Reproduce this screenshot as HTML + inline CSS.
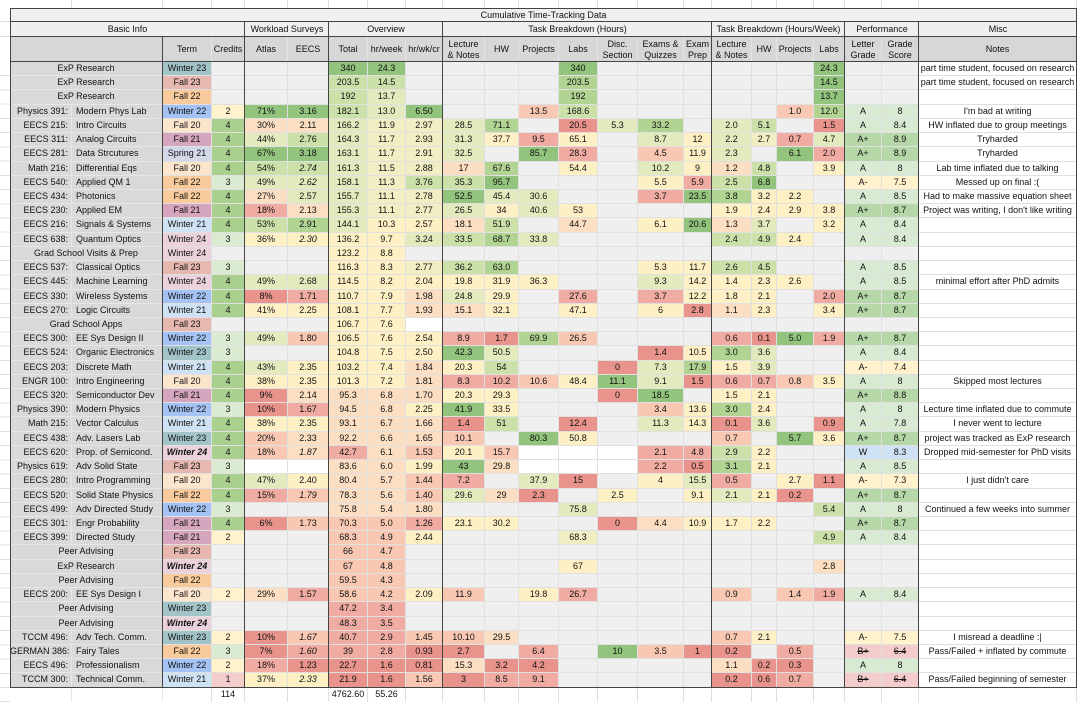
<!DOCTYPE html>
<html><head><meta charset="utf-8"><title>Cumulative Time-Tracking Data</title>
<style>
*{margin:0;padding:0}
body{width:1080px;height:702px;overflow:hidden;background:#fff;font-family:"Liberation Sans",Arial,sans-serif;font-size:9px;color:#111;position:relative}
.abs{position:absolute}
.tb{position:absolute;left:10px;top:62px;width:1067px}
.r{height:14.227px;display:flex}
.r>div{flex:none;box-sizing:border-box;border-right:1px solid #e0e0e0;border-bottom:1px solid #e0e0e0;background:#efefef;text-align:center;line-height:13.2px;white-space:nowrap;overflow:hidden}
.r>div:nth-last-child(1){width:158px;background:#fff}
.r>div:nth-last-child(2){width:37px}
.r>div:nth-last-child(3){width:37px}
.r>div:nth-last-child(4){width:31px}
.r>div:nth-last-child(5){width:37px}
.r>div:nth-last-child(6){width:25px}
.r>div:nth-last-child(7){width:40px}
.r>div:nth-last-child(8){width:28px}
.r>div:nth-last-child(9){width:46px}
.r>div:nth-last-child(10){width:40px}
.r>div:nth-last-child(11){width:39px}
.r>div:nth-last-child(12){width:40px}
.r>div:nth-last-child(13){width:34px}
.r>div:nth-last-child(14){width:42px}
.r>div:nth-last-child(15){width:37px}
.r>div:nth-last-child(16){width:38px}
.r>div:nth-last-child(17){width:39px}
.r>div:nth-last-child(18){width:41px}
.r>div:nth-last-child(19){width:43px}
.r>div:nth-last-child(20){width:33px}
.r>div:nth-last-child(21){width:49px}
.r>div:nth-last-child(22){width:91px;text-align:left;padding-left:4px;background:#d9d9d9;border-right-color:#e6e6e6;border-bottom-color:#e6e6e6}
.r>div:nth-last-child(23){width:62px;text-align:right;padding-right:3px;background:#d9d9d9;border-right-color:#e6e6e6;border-bottom-color:#e6e6e6}
.r>div.m{width:153px;text-align:center;padding:0}
.r>div.wh{background:#fff}
.r>div.g4{background:#93c47d}
.r>div.g3{background:#b1d493}
.r>div.g2{background:#cce1a9}
.r>div.g1{background:#e3eabd}
.r>div.yg{background:#f2eec3}
.r>div.y{background:#fef0c5}
.r>div.p{background:#fcdfc3}
.r>div.r1{background:#f8c8b3}
.r>div.r2{background:#f0aca2}
.r>div.r3{background:#e9938d}
.r>div.w23{background:#a2c4c9}
.r>div.f23{background:#e6b8af}
.r>div.f22{background:#f9cb9c}
.r>div.w22{background:#a4c2f4}
.r>div.f20{background:#fce5cd}
.r>div.f21{background:#d5a6bd}
.r>div.s21{background:#d4d9ea}
.r>div.w21{background:#cfe2f3}
.r>div.w24{background:#ead1dc}
.r>div.c4{background:#aad08f}
.r>div.c3{background:#dbebd2}
.r>div.c2{background:#fff2cc}
.r>div.c1{background:#f4cccc}
.r>div.ap{background:#b6d7a8}
.r>div.a{background:#d9ead3}
.r>div.am{background:#fff2cc}
.r>div.wd{background:#cfe2f3}
.r>div.bp{background:#f4cccc;text-decoration:line-through}
.it{font-style:italic}
.bi{font-style:italic;font-weight:bold}
.r.tot>div{background:#fff;border-bottom:none}
.hd{position:absolute;left:10px;display:flex}
.hd>div{flex:none;box-sizing:border-box;text-align:center;display:flex;align-items:center;justify-content:center;line-height:11px}
.sec>div{background:#efefef;height:15px}
.col>div{background:#d7d7d7;height:25px;border-right:1px solid #e4e4e4}
.top>div{height:8px;border-right:1px solid #e0e0e0;background:#fff}
.dk{position:absolute;background:#444}
</style></head><body>

<div class="hd top" style="top:0">
<div style="width:62px"></div><div style="width:91px"></div><div style="width:49px"></div><div style="width:33px"></div><div style="width:43px"></div><div style="width:41px"></div><div style="width:39px"></div><div style="width:38px"></div><div style="width:37px"></div><div style="width:42px"></div><div style="width:34px"></div><div style="width:40px"></div><div style="width:39px"></div><div style="width:40px"></div><div style="width:46px"></div><div style="width:28px"></div><div style="width:40px"></div><div style="width:25px"></div><div style="width:37px"></div><div style="width:31px"></div><div style="width:37px"></div><div style="width:37px"></div><div style="width:158px"></div>
</div>

<div class="abs" style="left:0;top:62px;width:10px;height:640px;background:repeating-linear-gradient(to bottom,#fff 0,#fff 13.227px,#e0e0e0 13.227px,#e0e0e0 14.227px)"></div>
<div class="abs" style="left:0;top:21px;width:10px;height:1px;background:#e0e0e0"></div>
<div class="abs" style="left:0;top:36px;width:10px;height:1px;background:#e0e0e0"></div>

<div class="abs" style="left:10px;top:8px;width:1067px;height:14px;background:#efefef;text-align:center;line-height:14px">Cumulative Time-Tracking Data</div>

<div class="hd sec" style="top:22px">
<div style="width:235px">Basic Info</div><div style="width:84px">Workload Surveys</div><div style="width:114px">Overview</div><div style="width:269px">Task Breakdown (Hours)</div><div style="width:133px">Task Breakdown (Hours/Week)</div><div style="width:74px">Performance</div><div style="width:158px">Misc</div>
</div>

<div class="hd col" style="top:37px">
<div style="width:153px"></div><div style="width:49px">Term</div><div style="width:33px">Credits</div><div style="width:43px">Atlas</div><div style="width:41px">EECS</div><div style="width:39px">Total</div><div style="width:38px">hr/week</div><div style="width:37px">hr/wk/cr</div><div style="width:42px">Lecture<br>&amp; Notes</div><div style="width:34px">HW</div><div style="width:40px">Projects</div><div style="width:39px">Labs</div><div style="width:40px">Disc.<br>Section</div><div style="width:46px">Exams &amp;<br>Quizzes</div><div style="width:28px">Exam<br>Prep</div><div style="width:40px">Lecture<br>&amp; Notes</div><div style="width:25px">HW</div><div style="width:37px">Projects</div><div style="width:31px">Labs</div><div style="width:37px">Letter<br>Grade</div><div style="width:37px">Grade<br>Score</div><div style="width:158px">Notes</div>
</div>

<div class="tb">
<div class="r"><div class="m">ExP Research</div><div class="w23">Winter 23</div><div></div><div></div><div></div><div class="g4">340</div><div class="g4">24.3</div><div></div><div></div><div></div><div></div><div class="g4">340</div><div></div><div></div><div></div><div></div><div></div><div></div><div class="g4">24.3</div><div></div><div></div><div>part time student, focused on research</div></div>
<div class="r"><div class="m">ExP Research</div><div class="f23">Fall 23</div><div></div><div></div><div></div><div class="g2">203.5</div><div class="g2">14.5</div><div></div><div></div><div></div><div></div><div class="g3">203.5</div><div></div><div></div><div></div><div></div><div></div><div></div><div class="g4">14.5</div><div></div><div></div><div>part time student, focused on research</div></div>
<div class="r"><div class="m">ExP Research</div><div class="f22">Fall 22</div><div></div><div></div><div></div><div class="g2">192</div><div class="g1">13.7</div><div></div><div></div><div></div><div></div><div class="g3">192</div><div></div><div></div><div></div><div></div><div></div><div></div><div class="g4">13.7</div><div></div><div></div><div></div></div>
<div class="r"><div>Physics 391:</div><div>Modern Phys Lab</div><div class="w22">Winter 22</div><div class="c2">2</div><div class="g4">71%</div><div class="g4">3.16</div><div class="g2">182.1</div><div class="g1">13.0</div><div class="g4">6.50</div><div></div><div></div><div class="r1">13.5</div><div class="g2">168.6</div><div></div><div></div><div></div><div></div><div></div><div class="r1">1.0</div><div class="g3">12.0</div><div class="a">A</div><div class="a">8</div><div>I'm bad at writing</div></div>
<div class="r"><div>EECS 215:</div><div>Intro Circuits</div><div class="f20">Fall 20</div><div class="c4">4</div><div class="p">30%</div><div class="p">2.11</div><div class="g1">166.2</div><div class="yg">11.9</div><div class="yg">2.97</div><div class="g1">28.5</div><div class="g3">71.1</div><div></div><div class="r3">20.5</div><div class="g1">5.3</div><div class="g3">33.2</div><div></div><div class="g1">2.0</div><div class="g2">5.1</div><div></div><div class="r3">1.5</div><div class="a">A</div><div class="a">8.4</div><div>HW inflated due to group meetings</div></div>
<div class="r"><div>EECS 311:</div><div>Analog Circuits</div><div class="f21">Fall 21</div><div class="c4">4</div><div class="g1">44%</div><div class="g2">2.76</div><div class="g1">164.3</div><div class="yg">11.7</div><div class="yg">2.93</div><div class="g1">31.3</div><div class="y">37.7</div><div class="r2">9.5</div><div class="y">65.1</div><div></div><div class="g1">8.7</div><div class="y">12</div><div class="g1">2.2</div><div class="yg">2.7</div><div class="r2">0.7</div><div class="g1">4.7</div><div class="ap">A+</div><div class="ap">8.9</div><div>Tryharded</div></div>
<div class="r"><div>EECS 281:</div><div>Data Strcutures</div><div class="s21">Spring 21</div><div class="c4">4</div><div class="g4">67%</div><div class="g4">3.18</div><div class="g1">163.1</div><div class="yg">11.7</div><div class="yg">2.91</div><div class="g1">32.5</div><div></div><div class="g4">85.7</div><div class="r2">28.3</div><div></div><div class="r1">4.5</div><div class="y">11.9</div><div class="g1">2.3</div><div></div><div class="g4">6.1</div><div class="r2">2.0</div><div class="ap">A+</div><div class="ap">8.9</div><div>Tryharded</div></div>
<div class="r"><div>Math 216:</div><div>Differential Eqs</div><div class="f20">Fall 20</div><div class="c4">4</div><div class="g2">54%</div><div class="g2 it">2.74</div><div class="g1">161.3</div><div class="yg">11.5</div><div class="yg">2.88</div><div class="p">17</div><div class="g3">67.6</div><div></div><div class="y">54.4</div><div></div><div class="g1">10.2</div><div class="y">9</div><div class="p">1.2</div><div class="g2">4.8</div><div></div><div class="y">3.9</div><div class="a">A</div><div class="a">8</div><div>Lab time inflated due to talking</div></div>
<div class="r"><div>EECS 540:</div><div>Applied QM 1</div><div class="f22">Fall 22</div><div class="c3">3</div><div class="g1">49%</div><div class="g1 it">2.62</div><div class="g1">158.1</div><div class="yg">11.3</div><div class="g2">3.76</div><div class="g2">35.3</div><div class="g4">95.7</div><div></div><div></div><div></div><div class="y">5.5</div><div class="r2">5.9</div><div class="g2">2.5</div><div class="g4">6.8</div><div></div><div></div><div class="am">A-</div><div class="am">7.5</div><div>Messed up on final :(</div></div>
<div class="r"><div>EECS 434:</div><div>Photonics</div><div class="f22">Fall 22</div><div class="c4">4</div><div class="p">27%</div><div class="g1">2.57</div><div class="g1">155.7</div><div class="yg">11.1</div><div class="yg">2.78</div><div class="g4">52.5</div><div class="g1">45.4</div><div class="g1">30.6</div><div></div><div></div><div class="r2">3.7</div><div class="g4">23.5</div><div class="g3">3.8</div><div class="y">3.2</div><div class="y">2.2</div><div></div><div class="a">A</div><div class="a">8.5</div><div>Had to make massive equation sheet</div></div>
<div class="r"><div>EECS 230:</div><div>Applied EM</div><div class="f21">Fall 21</div><div class="c4">4</div><div class="r2">18%</div><div class="p">2.13</div><div class="g1">155.3</div><div class="yg">11.1</div><div class="yg">2.77</div><div class="g1">26.5</div><div class="y">34</div><div class="g1">40.6</div><div class="y">53</div><div></div><div></div><div></div><div class="y">1.9</div><div class="y">2.4</div><div class="y">2.9</div><div class="y">3.8</div><div class="ap">A+</div><div class="ap">8.7</div><div>Project was writing, I don't like writing</div></div>
<div class="r"><div>EECS 216:</div><div>Signals &amp; Systems</div><div class="w21">Winter 21</div><div class="c4">4</div><div class="g2">53%</div><div class="g3">2.91</div><div class="g1">144.1</div><div class="y">10.3</div><div class="y">2.57</div><div class="p">18.1</div><div class="g2">51.9</div><div></div><div class="p">44.7</div><div></div><div class="y">6.1</div><div class="g4">20.6</div><div class="p">1.3</div><div class="g1">3.7</div><div></div><div class="y">3.2</div><div class="a">A</div><div class="a">8.4</div><div></div></div>
<div class="r"><div>EECS 638:</div><div>Quantum Optics</div><div class="w24">Winter 24</div><div class="c3">3</div><div class="y">36%</div><div class="y it">2.30</div><div class="y">136.2</div><div class="y">9.7</div><div class="g1">3.24</div><div class="g2">33.5</div><div class="g3">68.7</div><div class="g1">33.8</div><div></div><div></div><div></div><div></div><div class="g2">2.4</div><div class="g2">4.9</div><div class="y">2.4</div><div></div><div class="a">A</div><div class="a">8.4</div><div></div></div>
<div class="r"><div class="m">Grad School Visits &amp; Prep</div><div class="w24">Winter 24</div><div></div><div></div><div></div><div class="y">123.2</div><div class="y">8.8</div><div></div><div></div><div></div><div></div><div></div><div></div><div></div><div></div><div></div><div></div><div></div><div></div><div></div><div></div><div></div></div>
<div class="r"><div>EECS 537:</div><div>Classical Optics</div><div class="f23">Fall 23</div><div class="c3">3</div><div></div><div></div><div class="y">116.3</div><div class="y">8.3</div><div class="yg">2.77</div><div class="g2">36.2</div><div class="g3">63.0</div><div></div><div></div><div></div><div class="y">5.3</div><div class="y">11.7</div><div class="g2">2.6</div><div class="g2">4.5</div><div></div><div></div><div class="a">A</div><div class="a">8.5</div><div></div></div>
<div class="r"><div>EECS 445:</div><div>Machine Learning</div><div class="w24">Winter 24</div><div class="c4">4</div><div class="g1">49%</div><div class="g1">2.68</div><div class="y">114.5</div><div class="y">8.2</div><div class="y">2.04</div><div class="y">19.8</div><div class="y">31.9</div><div class="y">36.3</div><div></div><div></div><div class="g1">9.3</div><div class="y">14.2</div><div class="y">1.4</div><div class="y">2.3</div><div class="y">2.6</div><div></div><div class="a">A</div><div class="a">8.5</div><div>minimal effort after PhD admits</div></div>
<div class="r"><div>EECS 330:</div><div>Wireless Systems</div><div class="w22">Winter 22</div><div class="c4">4</div><div class="r3">8%</div><div class="r2">1.71</div><div class="y">110.7</div><div class="y">7.9</div><div class="p">1.98</div><div class="g1">24.8</div><div class="y">29.9</div><div></div><div class="r2">27.6</div><div></div><div class="r2">3.7</div><div class="y">12.2</div><div class="y">1.8</div><div class="y">2.1</div><div></div><div class="r2">2.0</div><div class="ap">A+</div><div class="ap">8.7</div><div></div></div>
<div class="r"><div>EECS 270:</div><div>Logic Circuits</div><div class="w21">Winter 21</div><div class="c4">4</div><div class="y">41%</div><div class="y">2.25</div><div class="y">108.1</div><div class="y">7.7</div><div class="p">1.93</div><div class="p">15.1</div><div class="y">32.1</div><div></div><div class="y">47.1</div><div></div><div class="y">6</div><div class="r3">2.8</div><div class="p">1.1</div><div class="y">2.3</div><div></div><div class="y">3.4</div><div class="ap">A+</div><div class="ap">8.7</div><div></div></div>
<div class="r"><div class="m">Grad School Apps</div><div class="f23">Fall 23</div><div></div><div></div><div></div><div class="y">106.7</div><div class="y">7.6</div><div class="wh"></div><div></div><div></div><div></div><div></div><div></div><div></div><div></div><div></div><div></div><div></div><div></div><div></div><div></div><div></div></div>
<div class="r"><div>EECS 300:</div><div>EE Sys Design II</div><div class="w22">Winter 22</div><div class="c3">3</div><div class="g1">49%</div><div class="r1">1.80</div><div class="y">106.5</div><div class="y">7.6</div><div class="y">2.54</div><div class="r2">8.9</div><div class="r3">1.7</div><div class="g3">69.9</div><div class="r1">26.5</div><div></div><div></div><div></div><div class="r2">0.6</div><div class="r3">0.1</div><div class="g4">5.0</div><div class="r2">1.9</div><div class="ap">A+</div><div class="ap">8.7</div><div></div></div>
<div class="r"><div>EECS 524:</div><div>Organic Electronics</div><div class="w23">Winter 23</div><div class="c3">3</div><div></div><div></div><div class="y">104.8</div><div class="y">7.5</div><div class="y">2.50</div><div class="g4">42.3</div><div class="g1">50.5</div><div></div><div></div><div></div><div class="r3">1.4</div><div class="y">10.5</div><div class="g3">3.0</div><div class="g1">3.6</div><div></div><div></div><div class="a">A</div><div class="a">8.4</div><div></div></div>
<div class="r"><div>EECS 203:</div><div>Discrete Math</div><div class="w21">Winter 21</div><div class="c4">4</div><div class="g1">43%</div><div class="y">2.35</div><div class="y">103.2</div><div class="y">7.4</div><div class="p">1.84</div><div class="y">20.3</div><div class="g2">54</div><div></div><div></div><div class="r3">0</div><div class="g1">7.3</div><div class="g3">17.9</div><div class="y">1.5</div><div class="g1">3.9</div><div></div><div></div><div class="am">A-</div><div class="am">7.4</div><div></div></div>
<div class="r"><div>ENGR 100:</div><div>Intro Engineering</div><div class="f20">Fall 20</div><div class="c4">4</div><div class="y">38%</div><div class="y">2.35</div><div class="y">101.3</div><div class="y">7.2</div><div class="p">1.81</div><div class="r2">8.3</div><div class="r2">10.2</div><div class="r1">10.6</div><div class="y">48.4</div><div class="g4">11.1</div><div class="g1">9.1</div><div class="r3">1.5</div><div class="r2">0.6</div><div class="r2">0.7</div><div class="r1">0.8</div><div class="y">3.5</div><div class="a">A</div><div class="a">8</div><div>Skipped most lectures</div></div>
<div class="r"><div>EECS 320:</div><div>Semiconductor Dev</div><div class="f21">Fall 21</div><div class="c4">4</div><div class="r3">9%</div><div class="p">2.14</div><div class="p">95.3</div><div class="p">6.8</div><div class="p">1.70</div><div class="y">20.3</div><div class="y">29.3</div><div></div><div></div><div class="r3">0</div><div class="g4">18.5</div><div></div><div class="y">1.5</div><div class="y">2.1</div><div></div><div></div><div class="ap">A+</div><div class="ap">8.8</div><div></div></div>
<div class="r"><div>Physics 390:</div><div>Modern Physics</div><div class="w22">Winter 22</div><div class="c3">3</div><div class="r3">10%</div><div class="r2">1.67</div><div class="p">94.5</div><div class="p">6.8</div><div class="y">2.25</div><div class="g4">41.9</div><div class="y">33.5</div><div></div><div></div><div></div><div class="r1">3.4</div><div class="y">13.6</div><div class="g3">3.0</div><div class="y">2.4</div><div></div><div></div><div class="a">A</div><div class="a">8</div><div>Lecture time inflated due to commute</div></div>
<div class="r"><div>Math 215:</div><div>Vector Calculus</div><div class="w21">Winter 21</div><div class="c4">4</div><div class="y">38%</div><div class="y">2.35</div><div class="p">93.1</div><div class="p">6.7</div><div class="p">1.66</div><div class="r3">1.4</div><div class="g2">51</div><div></div><div class="r3">12.4</div><div></div><div class="g1">11.3</div><div class="y">14.3</div><div class="r3">0.1</div><div class="g1">3.6</div><div></div><div class="r3">0.9</div><div class="a">A</div><div class="a">7.8</div><div>I never went to lecture</div></div>
<div class="r"><div>EECS 438:</div><div>Adv. Lasers Lab</div><div class="w23">Winter 23</div><div class="c4">4</div><div class="r1">20%</div><div class="p">2.33</div><div class="p">92.2</div><div class="p">6.6</div><div class="p">1.65</div><div class="r1">10.1</div><div></div><div class="g4">80.3</div><div class="y">50.8</div><div></div><div></div><div></div><div class="r1">0.7</div><div></div><div class="g4">5.7</div><div class="y">3.6</div><div class="ap">A+</div><div class="ap">8.7</div><div>project was tracked as ExP research</div></div>
<div class="r"><div>EECS 620:</div><div>Prop. of Semicond.</div><div class="w24 bi">Winter 24</div><div class="c4">4</div><div class="r1">18%</div><div class="p it">1.87</div><div class="r2">42.7</div><div class="p">6.1</div><div class="r1">1.53</div><div class="y">20.1</div><div class="r1">15.7</div><div class="wh"></div><div class="wh"></div><div class="wh"></div><div class="r2">2.1</div><div class="r2">4.8</div><div class="g2">2.9</div><div class="y">2.2</div><div></div><div></div><div class="wd">W</div><div class="wd">8.3</div><div>Dropped mid-semester for PhD visits</div></div>
<div class="r"><div>Physics 619:</div><div>Adv Solid State</div><div class="f23">Fall 23</div><div class="c3">3</div><div class="wh"></div><div class="wh"></div><div class="p">83.6</div><div class="p">6.0</div><div class="y">1.99</div><div class="g4">43</div><div class="p">29.8</div><div class="wh"></div><div class="wh"></div><div class="wh"></div><div class="r2">2.2</div><div class="r3">0.5</div><div class="g3">3.1</div><div class="y">2.1</div><div></div><div></div><div class="a">A</div><div class="a">8.5</div><div></div></div>
<div class="r"><div>EECS 280:</div><div>Intro Programming</div><div class="f20">Fall 20</div><div class="c4">4</div><div class="g1">47%</div><div class="y">2.40</div><div class="p">80.4</div><div class="p">5.7</div><div class="r1">1.44</div><div class="r2">7.2</div><div></div><div class="g1">37.9</div><div class="r3">15</div><div></div><div class="y">4</div><div class="g1">15.5</div><div class="r2">0.5</div><div></div><div class="y">2.7</div><div class="r3">1.1</div><div class="am">A-</div><div class="am">7.3</div><div>I just didn't care</div></div>
<div class="r"><div>EECS 520:</div><div>Solid State Physics</div><div class="f22">Fall 22</div><div class="c4">4</div><div class="r2">15%</div><div class="r1 it">1.79</div><div class="p">78.3</div><div class="p">5.6</div><div class="r1">1.40</div><div class="g1">29.6</div><div class="p">29</div><div class="r3">2.3</div><div></div><div class="y">2.5</div><div></div><div class="y">9.1</div><div class="g1">2.1</div><div class="y">2.1</div><div class="r3">0.2</div><div></div><div class="ap">A+</div><div class="ap">8.7</div><div></div></div>
<div class="r"><div>EECS 499:</div><div>Adv Directed Study</div><div class="w22">Winter 22</div><div class="c3">3</div><div></div><div></div><div class="p">75.8</div><div class="p">5.4</div><div class="p">1.80</div><div></div><div></div><div></div><div class="g1">75.8</div><div></div><div></div><div></div><div></div><div></div><div></div><div class="g2">5.4</div><div class="a">A</div><div class="a">8</div><div>Continued a few weeks into summer</div></div>
<div class="r"><div>EECS 301:</div><div>Engr Probability</div><div class="f21">Fall 21</div><div class="c4">4</div><div class="r3">6%</div><div class="r1">1.73</div><div class="r1">70.3</div><div class="r1">5.0</div><div class="r2">1.26</div><div class="y">23.1</div><div class="y">30.2</div><div></div><div></div><div class="r3">0</div><div class="p">4.4</div><div class="y">10.9</div><div class="y">1.7</div><div class="y">2.2</div><div></div><div></div><div class="ap">A+</div><div class="ap">8.7</div><div></div></div>
<div class="r"><div>EECS 399:</div><div>Directed Study</div><div class="f21">Fall 21</div><div class="c2">2</div><div></div><div></div><div class="r1">68.3</div><div class="r1">4.9</div><div class="y">2.44</div><div></div><div></div><div></div><div class="yg">68.3</div><div></div><div></div><div></div><div></div><div></div><div></div><div class="g2">4.9</div><div class="a">A</div><div class="a">8.4</div><div></div></div>
<div class="r"><div class="m">Peer Advising</div><div class="f23">Fall 23</div><div></div><div></div><div></div><div class="r1">66</div><div class="r1">4.7</div><div></div><div></div><div></div><div></div><div></div><div></div><div></div><div></div><div></div><div></div><div></div><div></div><div></div><div></div><div></div></div>
<div class="r"><div class="m">ExP Research</div><div class="w24 bi">Winter 24</div><div></div><div></div><div></div><div class="r1">67</div><div class="r1">4.8</div><div></div><div></div><div></div><div></div><div class="y">67</div><div></div><div></div><div></div><div></div><div></div><div></div><div class="p">2.8</div><div></div><div></div><div></div></div>
<div class="r"><div class="m">Peer Advising</div><div class="f22">Fall 22</div><div></div><div></div><div></div><div class="r1">59.5</div><div class="r1">4.3</div><div></div><div></div><div></div><div></div><div></div><div></div><div></div><div></div><div></div><div></div><div></div><div></div><div></div><div></div><div></div></div>
<div class="r"><div>EECS 200:</div><div>EE Sys Design I</div><div class="f20">Fall 20</div><div class="c2">2</div><div class="p">29%</div><div class="r2">1.57</div><div class="r1">58.6</div><div class="r1">4.2</div><div class="y">2.09</div><div class="r1">11.9</div><div></div><div class="y">19.8</div><div class="r2">26.7</div><div></div><div></div><div></div><div class="r1">0.9</div><div></div><div class="r1">1.4</div><div class="r2">1.9</div><div class="a">A</div><div class="a">8.4</div><div></div></div>
<div class="r"><div class="m">Peer Advising</div><div class="w23">Winter 23</div><div></div><div></div><div></div><div class="r2">47.2</div><div class="r2">3.4</div><div></div><div></div><div></div><div></div><div></div><div></div><div></div><div></div><div></div><div></div><div></div><div></div><div></div><div></div><div></div></div>
<div class="r"><div class="m">Peer Advising</div><div class="w24 bi">Winter 24</div><div></div><div></div><div></div><div class="r2">48.3</div><div class="r2">3.5</div><div></div><div></div><div></div><div></div><div></div><div></div><div></div><div></div><div></div><div></div><div></div><div></div><div></div><div></div><div></div></div>
<div class="r"><div>TCCM 496:</div><div>Adv Tech. Comm.</div><div class="w23">Winter 23</div><div class="c2">2</div><div class="r3">10%</div><div class="r1 it">1.67</div><div class="r2">40.7</div><div class="r2">2.9</div><div class="r1">1.45</div><div class="r1">10.10</div><div class="p">29.5</div><div></div><div></div><div></div><div></div><div></div><div class="r1">0.7</div><div class="y">2.1</div><div></div><div></div><div class="am">A-</div><div class="am">7.5</div><div>I misread a deadline :|</div></div>
<div class="r"><div>GERMAN 386:</div><div>Fairy Tales</div><div class="f22">Fall 22</div><div class="c3">3</div><div class="r3">7%</div><div class="r2 it">1.60</div><div class="r2">39</div><div class="r2">2.8</div><div class="r3">0.93</div><div class="r3">2.7</div><div></div><div class="r2">6.4</div><div></div><div class="g4">10</div><div class="r1">3.5</div><div class="r3">1</div><div class="r3">0.2</div><div></div><div class="r2">0.5</div><div></div><div class="bp">B+</div><div class="bp">6.4</div><div>Pass/Failed + inflated by commute</div></div>
<div class="r"><div>EECS 496:</div><div>Professionalism</div><div class="w22">Winter 22</div><div class="c2">2</div><div class="r2">18%</div><div class="r3">1.23</div><div class="r3">22.7</div><div class="r3">1.6</div><div class="r3">0.81</div><div class="p">15.3</div><div class="r3">3.2</div><div class="r3">4.2</div><div></div><div></div><div></div><div></div><div class="p">1.1</div><div class="r3">0.2</div><div class="r3">0.3</div><div></div><div class="a">A</div><div class="a">8</div><div></div></div>
<div class="r"><div>TCCM 300:</div><div>Technical Comm.</div><div class="w21">Winter 21</div><div class="c1">1</div><div class="y">37%</div><div class="y it">2.33</div><div class="r3">21.9</div><div class="r3">1.6</div><div class="r1">1.56</div><div class="r3">3</div><div class="r2">8.5</div><div class="r2">9.1</div><div></div><div></div><div></div><div></div><div class="r3">0.2</div><div class="r3">0.6</div><div class="r2">0.7</div><div></div><div class="bp">B+</div><div class="bp">6.4</div><div>Pass/Failed beginning of semester</div></div>
<div class="r tot"><div></div><div></div><div></div><div>114</div><div></div><div></div><div>4762.60</div><div>55.26</div><div></div><div></div><div></div><div></div><div></div><div></div><div></div><div></div><div></div><div></div><div></div><div></div><div></div><div></div><div></div></div>
</div>

<!-- dark borders -->
<div class="dk" style="left:10px;top:8px;width:1067px;height:1px"></div>
<div class="dk" style="left:10px;top:21px;width:1067px;height:1px"></div>
<div class="dk" style="left:10px;top:36px;width:1067px;height:1px"></div>
<div class="dk" style="left:10px;top:61px;width:1067px;height:1px"></div>
<div class="dk" style="left:10px;top:687px;width:1067px;height:1px"></div>
<div class="dk" style="left:10px;top:8px;width:1px;height:680px"></div>
<div class="dk" style="left:1076px;top:8px;width:1px;height:680px"></div>
<div class="dk" style="left:162px;top:36px;width:1px;height:652px"></div>
<div class="dk" style="left:244px;top:21px;width:1px;height:667px"></div>
<div class="dk" style="left:328px;top:21px;width:1px;height:667px"></div>
<div class="dk" style="left:442px;top:21px;width:1px;height:667px"></div>
<div class="dk" style="left:711px;top:21px;width:1px;height:667px"></div>
<div class="dk" style="left:844px;top:21px;width:1px;height:667px"></div>
<div class="dk" style="left:918px;top:21px;width:1px;height:667px"></div>
</body></html>
